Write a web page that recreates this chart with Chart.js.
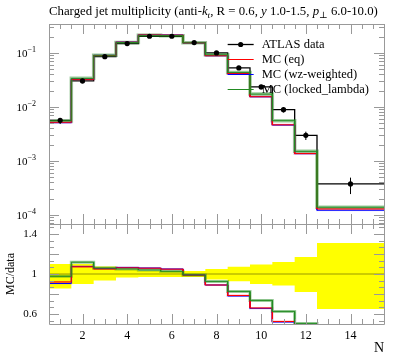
<!DOCTYPE html>
<html>
<head>
<meta charset="utf-8">
<script src="https://cdn.jsdelivr.net/npm/chart.js@4.4.1/dist/chart.umd.min.js"></script>
<style>
  body { margin: 0; background: #fff; }
  canvas { display: block; }
</style>
</head>
<body>
<canvas id="chart" width="397" height="358"></canvas>
<script>
// bins: last bin is wide (12.5 - 15.5)
const binEdges = [0.5, 1.5, 2.5, 3.5, 4.5, 5.5, 6.5, 7.5, 8.5, 9.5, 10.5, 11.5, 12.5, 15.5];
const binCentres = [1, 2, 3, 4, 5, 6, 7, 8, 9, 10, 11, 12, 14];

const atlasData = [0.00565, 0.0303, 0.0855, 0.149, 0.204, 0.204, 0.156, 0.100, 0.0528, 0.0235, 0.0089, 0.00298, 0.000375];
// relative errors
const atlasErrUp = [0.10, 0.10, 0.075, 0.045, 0.03, 0.03, 0.03, 0.05, 0.072, 0.095, 0.12, 0.17, 0.31];
const atlasErrDown = [0.145, 0.10, 0.065, 0.035, 0.03, 0.03, 0.03, 0.055, 0.072, 0.10, 0.115, 0.18, 0.35];

const mcEq = [0.0052, 0.03248, 0.08978, 0.1582, 0.2158, 0.2138, 0.1541, 0.089, 0.04145, 0.01551, 0.004673, 0.001371, 0.000129];
const mcWz = [0.005113, 0.0326, 0.0902, 0.1588, 0.2162, 0.2142, 0.1544, 0.089, 0.04118, 0.01542, 0.004628, 0.001365, 0.000122];
const mcLocked = [0.00552, 0.03388, 0.09063, 0.1565, 0.2122, 0.2095, 0.1544, 0.0926, 0.04361, 0.0173, 0.005571, 0.001508, 0.000139];

const xTicks = [2, 4, 6, 8, 10, 12, 14];
const ratioTicks = [0.6, 0.8, 1, 1.2, 1.4];
const logDecades = [-1, -2, -3, -4];

const legendNames = ['ATLAS data', 'MC (eq)', 'MC (wz-weighted)', 'MC (locked_lambda)'];

const RED = '#ff0000', BLUE = '#0000ff', GREEN = '#228b22';
const SERIF = '"Liberation Serif", "DejaVu Serif", serif';

function stepPoints(vals) {
  const pts = [];
  vals.forEach((v, i) => {
    pts.push({x: binEdges[i], y: v});
    pts.push({x: binEdges[i + 1], y: v});
  });
  return pts;
}

const ratio = arr => arr.map((v, i) => v / atlasData[i]);

const errSegments = [];
atlasData.forEach((v, i) => {
  errSegments.push({x: binCentres[i], y: v * (1 - atlasErrDown[i])});
  errSegments.push({x: binCentres[i], y: v * (1 + atlasErrUp[i])});
  errSegments.push({x: binCentres[i], y: null});
});

function line(data, color, width, order, axis) {
  return {
    data: data, yAxisID: axis || 'y', borderColor: color, borderWidth: width,
    pointRadius: 0, fill: false, order: order, spanGaps: false
  };
}

const datasets = [
  // ratio band (yellow)
  Object.assign(line(stepPoints(atlasErrUp.map(e => 1 + e)), 'rgba(0,0,0,0)', 0, 20, 'y2'),
    {fill: '+1', backgroundColor: '#ffff00'}),
  line(stepPoints(atlasErrDown.map(e => 1 - e)), 'rgba(0,0,0,0)', 0, 21, 'y2'),
  line([{x: 0.5, y: 1}, {x: 15.5, y: 1}], 'rgba(0,0,0,0.4)', 1, 19, 'y2'),
  // main panel
  line(stepPoints(atlasData), '#000', 1.3, 15),
  line(stepPoints(mcLocked), 'rgba(34,139,34,0.45)', 3.5, 12),
  line(stepPoints(mcEq), 'rgba(255,0,0,0.25)', 2.2, 13),
  line(stepPoints(mcWz), 'rgba(110,80,255,0.2)', 2, 11),
  line(stepPoints(mcWz), BLUE, 1, 8),
  line(stepPoints(mcEq), RED, 1, 7),
  line(stepPoints(mcLocked), GREEN, 1, 6),
  line(errSegments, '#000', 1, 2),
  {data: atlasData.map((v, i) => ({x: binCentres[i], y: v})), yAxisID: 'y', showLine: false,
    pointRadius: 2.6, pointBackgroundColor: '#000', pointBorderWidth: 0, order: 1},
  // ratio panel
  line(stepPoints(ratio(mcLocked)), 'rgba(34,139,34,0.45)', 3, 12, 'y2'),
  line(stepPoints(ratio(mcEq)), 'rgba(255,0,0,0.25)', 2, 13, 'y2'),
  line(stepPoints(ratio(mcWz)), 'rgba(110,80,255,0.2)', 2, 11, 'y2'),
  line(stepPoints(ratio(mcWz)), BLUE, 1, 8, 'y2'),
  line(stepPoints(ratio(mcEq)), RED, 1, 7, 'y2'),
  line(stepPoints(ratio(mcLocked)), GREEN, 1, 6, 'y2')
];

function drawRich(ctx, x, y, parts, size) {
  parts.forEach(p => {
    const s = p.sub ? size * 0.72 : size;
    ctx.font = (p.it ? 'italic ' : '') + s + 'px ' + SERIF;
    ctx.fillText(p.t, x, y + (p.sub ? size * 0.22 : 0));
    x += ctx.measureText(p.t).width;
  });
}

const decorPlugin = {
  id: 'decor',
  afterDraw(chart) {
    const ctx = chart.ctx;
    const sx = chart.scales.x, sy = chart.scales.y, sr = chart.scales.y2;
    const L = chart.chartArea.left, R = chart.chartArea.right;
    ctx.save();
    ctx.strokeStyle = '#999';
    ctx.lineWidth = 1;
    const panels = [[sy.top, sy.bottom], [sr.top, sr.bottom]];
    ctx.beginPath();
    panels.forEach(([t, b]) => {
      ctx.rect(Math.round(L) + 0.5, Math.round(t) + 0.5, Math.round(R - L), Math.round(b - t));
      // x ticks, inward on top and bottom
      for (let v = 0.5; v <= 15.5; v += 0.5) {
        const px = Math.round(sx.getPixelForValue(v)) + 0.5;
        const len = v % 2 === 0 ? 10 : 5;
        ctx.moveTo(px, t); ctx.lineTo(px, t + len);
        ctx.moveTo(px, b); ctx.lineTo(px, b - len);
      }
    });
    // log ticks of main panel
    for (let e = -5; e <= 0; e++) {
      for (let m = 1; m <= 9; m++) {
        const v = m * Math.pow(10, e);
        if (v < sy.min || v > sy.max) continue;
        const py = Math.round(sy.getPixelForValue(v)) + 0.5;
        const len = m === 1 ? 10 : 5;
        ctx.moveTo(L, py); ctx.lineTo(L + len, py);
        ctx.moveTo(R, py); ctx.lineTo(R - len, py);
      }
    }
    // ratio ticks
    for (let k = -2; k <= 14; k++) {
      const v = 0.6 + k * 0.2 / 3;
      if (v <= sr.min + 1e-6 || v >= sr.max - 1e-6) continue;
      const py = Math.round(sr.getPixelForValue(v)) + 0.5;
      const len = k % 3 === 0 ? 10 : 5;
      ctx.moveTo(L, py); ctx.lineTo(L + len, py);
      ctx.moveTo(R, py); ctx.lineTo(R - len, py);
    }
    ctx.stroke();

    // main y labels 10^n
    ctx.fillStyle = '#000';
    ctx.textAlign = 'left';
    ctx.textBaseline = 'alphabetic';
    logDecades.forEach(e => {
      const py = sy.getPixelForValue(Math.pow(10, e));
      const exp = '\u2212' + (-e);
      ctx.font = '8px ' + SERIF;
      const we = ctx.measureText(exp).width;
      ctx.font = '11px ' + SERIF;
      const wb = ctx.measureText('10').width;
      const xe = L - 13;
      ctx.fillText('10', xe - we - wb, py + 4);
      ctx.font = '8px ' + SERIF;
      ctx.fillText(exp, xe - we, py - 1);
    });

    // title
    const parts = [
      {t: 'Charged jet multiplicity (anti-'}, {t: 'k', it: true}, {t: 't', it: true, sub: true},
      {t: ', R = 0.6, '}, {t: 'y', it: true}, {t: ' 1.0-1.5, '}, {t: 'p', it: true},
      {t: '\u22a5', sub: true}, {t: ' 6.0-10.0)'}
    ];
    drawRich(ctx, L, 15, parts, 12.8);

    // legend
    const colors = ['#000', RED, BLUE, GREEN];
    const lx0 = sx.getPixelForValue(8.5), lx1 = lx0 + 26;
    legendNames.forEach((name, i) => {
      const ly = sy.top + 20 + i * 15;
      ctx.strokeStyle = colors[i];
      ctx.lineWidth = i === 0 ? 1.3 : 1;
      ctx.beginPath();
      ctx.moveTo(lx0, Math.round(ly) + 0.5); ctx.lineTo(lx1, Math.round(ly) + 0.5);
      ctx.stroke();
      if (i === 0) {
        ctx.beginPath();
        ctx.arc((lx0 + lx1) / 2, ly + 0.5, 2.6, 0, Math.PI * 2);
        ctx.fill();
      }
      ctx.font = '12.5px ' + SERIF;
      ctx.fillText(name, lx1 + 8, ly + 4);
    });
    ctx.restore();
  }
};

new Chart(document.getElementById('chart'), {
  type: 'line',
  data: {datasets: datasets},
  options: {
    responsive: false,
    animation: false,
    layout: {padding: {top: 24, right: 13, left: 0, bottom: 0}},
    plugins: {legend: {display: false}, tooltip: {enabled: false}},
    scales: {
      x: {
        type: 'linear', min: 0.5, max: 15.5, bounds: 'data',
        grid: {display: false, drawTicks: false}, border: {display: false},
        afterBuildTicks: s => { s.ticks = xTicks.map(v => ({value: v})); },
        afterFit: s => { s.height = 34; },
        ticks: {padding: 5, color: '#000', font: {family: SERIF, size: 12}},
        title: {display: true, text: 'N', align: 'end', color: '#000',
          font: {family: SERIF, size: 14}, padding: {top: 0, bottom: 1}}
      },
      // ratio panel listed first so it is stacked below the main panel
      y2: {
        type: 'linear', min: 0.5, max: 1.5, position: 'left',
        stack: 'panels', stackWeight: 1, bounds: 'data',
        grid: {display: false, drawTicks: false}, border: {display: false},
        afterBuildTicks: s => { s.ticks = ratioTicks.map(v => ({value: v})); },
        ticks: {padding: 12, color: '#000', font: {family: SERIF, size: 11},
          callback: v => String(Number(v.toFixed(1)))},
        title: {display: true, text: 'MC/data', color: '#000',
          font: {family: SERIF, size: 12}, padding: {top: 4, bottom: 0}},
        afterFit: s => { s.width = 49; }
      },
      y: {
        type: 'logarithmic', min: 6.8e-5, max: 0.344, position: 'left',
        stack: 'panels', stackWeight: 2, bounds: 'data',
        grid: {display: false, drawTicks: false}, border: {display: false},
        ticks: {display: false},
        afterFit: s => { s.width = 49; }
      }
    }
  },
  plugins: [decorPlugin]
});
</script>
</body>
</html>
